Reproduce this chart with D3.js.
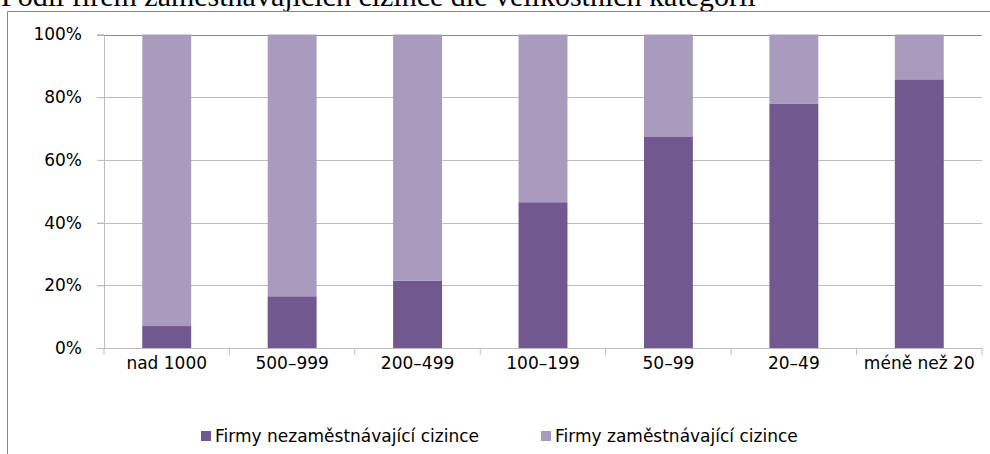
<!DOCTYPE html>
<html>
<head>
<meta charset="utf-8">
<script src="https://cdn.jsdelivr.net/npm/d3@7"></script>
<style>
  html, body { margin: 0; padding: 0; background: #fff; overflow: hidden; }
  svg { display: block; }
</style>
</head>
<body>
<svg width="990" height="454"></svg>
<script>
// data
const categories = ["nad 1000", "500–999", "200–499", "100–199", "50–99", "20–49", "méně než 20"];
const nezamestnavajici = [7, 16.5, 21.5, 46.5, 67.5, 78, 85.7];
const zamestnavajici = categories.map((c, i) => 100 - nezamestnavajici[i]);
const seriesNames = ["Firmy nezaměstnávající cizince", "Firmy zaměstnávající cizince"];
const seriesColors = ["#71598f", "#a99bbe"];
const yTicks = [0, 20, 40, 60, 80, 100];
const title = "Podíl firem zaměstnávajících cizince dle velikostních kategorií";

const svg = d3.select("svg");
const margin = { top: 34.5, right: 8, bottom: 106, left: 104 };
const width = 990, height = 454;
const labelFont = "DejaVu Sans, sans-serif";

// title, clipped at the top like in the source picture
svg.append("text")
  .attr("x", 1).attr("y", 6)
  .attr("font-family", "Liberation Serif, serif")
  .attr("font-size", 30)
  .attr("fill", "#000")
  .text(title);

// chart frame
svg.append("path")
  .attr("fill", "none")
  .attr("stroke", "#868686")
  .attr("d", `M7.5,460 V11.5 H995`);

const x = d3.scaleBand()
  .domain(categories)
  .range([margin.left, width - margin.right])
  .paddingInner(0.61)
  .paddingOuter(0.305);

const y = d3.scaleLinear()
  .domain([0, 100])
  .range([height - margin.bottom, margin.top]);

// gridlines
svg.append("g")
  .selectAll("line")
  .data(yTicks.filter(d => d > 0))
  .join("line")
    .attr("x1", margin.left - 7).attr("x2", width - margin.right)
    .attr("y1", d => Math.round(y(d)) + 0.5).attr("y2", d => Math.round(y(d)) + 0.5)
    .attr("stroke", d => d === 100 ? "#8c8c8c" : "#bdbdbd");

// stacked bars
const stack = d3.stack().keys([0, 1]).value((d, k) => d[k]);
const rows = categories.map((c, i) => ({ cat: c, 0: nezamestnavajici[i], 1: zamestnavajici[i] }));
const layers = stack(rows);

svg.append("g")
  .selectAll("g")
  .data(layers)
  .join("g")
    .attr("fill", (d, i) => seriesColors[i])
  .selectAll("rect")
  .data(d => d)
  .join("rect")
    .attr("x", d => x(d.data.cat))
    .attr("width", x.bandwidth())
    .attr("y", d => y(d[1]))
    .attr("height", d => y(d[0]) - y(d[1]));

// y axis
svg.append("g")
  .attr("transform", `translate(${margin.left},0)`)
  .call(d3.axisLeft(y).tickValues(yTicks).tickFormat(d => d + "%").tickSize(7).tickPadding(15))
  .call(g => g.selectAll("line, path").attr("stroke", "#bdbdbd"))
  .call(g => g.selectAll("text")
    .attr("font-family", labelFont)
    .attr("font-size", 17)
    .attr("fill", "#000"));

// x axis
const xAxis = svg.append("g")
  .attr("transform", `translate(0,${y(0)})`)
  .call(d3.axisBottom(x).tickSize(0).tickPadding(9).tickSizeOuter(0));
xAxis.select(".domain").attr("stroke", "#bdbdbd");
xAxis.selectAll("text")
  .attr("font-family", labelFont)
  .attr("font-size", 17)
  .attr("fill", "#000");
// category boundary ticks
xAxis.append("g")
  .selectAll("line")
  .data(categories.concat([null]))
  .join("line")
    .attr("x1", (d, i) => x(categories[0]) - x.step() * x.paddingOuter() + i * x.step())
    .attr("x2", (d, i) => x(categories[0]) - x.step() * x.paddingOuter() + i * x.step())
    .attr("y1", 0).attr("y2", 7)
    .attr("stroke", "#bdbdbd");

// legend
const legendX = [201, 541];
const legend = svg.append("g")
  .selectAll("g")
  .data(seriesNames)
  .join("g")
    .attr("transform", (d, i) => `translate(${legendX[i]},436)`);
legend.append("rect")
  .attr("x", 0).attr("y", -5).attr("width", 10).attr("height", 10)
  .attr("fill", (d, i) => seriesColors[i]);
legend.append("text")
  .attr("x", 14).attr("dy", "0.35em")
  .attr("font-family", labelFont)
  .attr("font-size", 17)
  .attr("fill", "#000")
  .text(d => d);
</script>
</body>
</html>
